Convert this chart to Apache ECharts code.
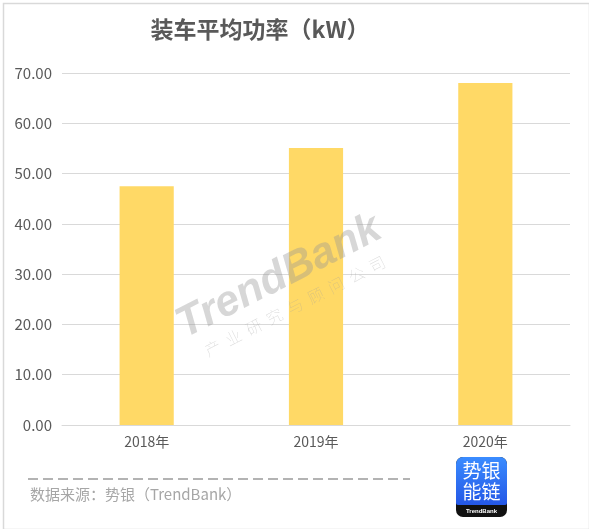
<!DOCTYPE html>
<html>
<head>
<meta charset="utf-8">
<script src="https://cdn.jsdelivr.net/npm/echarts@6/dist/echarts.min.js"></script>
<style>
  html, body { margin: 0; padding: 0; background: #fff; }
  #chart { width: 589px; height: 529px; }
</style>
</head>
<body>
<div id="chart"></div>
<script>
// data
const categories = ['2018年', '2019年', '2020年']
const powerValues = [47.5, 55.1, 68.0]
const yTicks = { min: 0, max: 70, interval: 10 }

const chart = echarts.init(document.getElementById('chart'))
const deg = Math.PI / 180
const font = '"Noto Sans CJK SC", "Noto Sans", sans-serif'

const option = {
  backgroundColor: '#fff',
  textStyle: { fontFamily: font },
  title: {
    text: '装车平均功率（kW）',
    left: 255,
    top: 13,
    textAlign: 'center',
    textStyle: { fontSize: 23, fontWeight: 'bold', color: '#595959', fontFamily: font }
  },
  grid: { left: 62, right: 19, top: 73, bottom: 104 },
  xAxis: {
    type: 'category',
    data: categories,
    axisLine: { lineStyle: { color: '#d9d9d9' } },
    axisTick: { show: false },
    axisLabel: { color: '#595959', fontSize: 14, margin: 10 }
  },
  yAxis: {
    type: 'value',
    min: yTicks.min,
    max: yTicks.max,
    interval: yTicks.interval,
    axisLine: { show: false },
    axisTick: { show: false },
    splitLine: { lineStyle: { color: '#d9d9d9' } },
    axisLabel: {
      color: '#595959',
      fontSize: 15,
      margin: 10,
      formatter: v => v.toFixed(2)
    }
  },
  series: [{
    type: 'bar',
    data: powerValues,
    barWidth: '32%',
    itemStyle: { color: '#FFD966' },
    z: 1
  }],
  graphic: [
    // outer frame
    {
      type: 'rect', left: 1, top: 1, z: 0,
      shape: { width: 586, height: 526 },
      style: { fill: 'none', stroke: '#d9d9d9', lineWidth: 1.5 }
    },
    // watermark
    {
      type: 'text', x: 279, y: 277, rotation: 27 * deg, z: 10,
      style: {
        text: 'TrendBank', x: 0, y: 0, textAlign: 'center', textVerticalAlign: 'middle',
        fontSize: 43, fontWeight: 'bold', fontStyle: 'italic', fontFamily: 'Arial, "Liberation Sans", sans-serif',
        fill: 'rgba(150,150,150,0.38)'
      }
    },
    {
      type: 'text', x: 295, y: 306, rotation: 27 * deg, z: 10,
      style: {
        text: '产  业  研  究  与  顾  问  公  司', x: 0, y: 0, textAlign: 'center', textVerticalAlign: 'middle',
        fontSize: 16, fontWeight: 'lighter', fontFamily: font,
        fill: 'rgba(160,160,160,0.4)'
      }
    },
    // dashed separator
    {
      type: 'line', z: 5,
      shape: { x1: 28, y1: 479, x2: 410, y2: 479 },
      style: { stroke: '#b3b3b3', lineWidth: 2, lineDash: [10, 5] }
    },
    {
      type: 'text', left: 30, top: 487, z: 5,
      style: { text: '数据来源：势银（TrendBank）', fontSize: 15, fill: '#a6a6a6', fontFamily: font }
    },
    // logo
    {
      type: 'group', x: 456, y: 457, z: 20,
      children: [
        {
          type: 'rect', shape: { x: 0, y: 0, width: 51, height: 60, r: 7 },
          style: { fill: '#111' }
        },
        {
          type: 'rect', shape: { x: 0, y: 0, width: 51, height: 48, r: [7, 7, 2, 2] },
          style: {
            fill: new echarts.graphic.LinearGradient(0, 0, 0, 1, [
              { offset: 0, color: '#3a8cff' },
              { offset: 1, color: '#2457e6' }
            ])
          }
        },
        {
          type: 'text', style: {
            text: '势银\n能链', x: 25.5, y: 24, textAlign: 'center', textVerticalAlign: 'middle',
            fontSize: 19, lineHeight: 21, fill: '#fff', fontFamily: font
          }
        },
        {
          type: 'text', style: {
            text: 'TrendBank', x: 25.5, y: 54, textAlign: 'center', textVerticalAlign: 'middle',
            fontSize: 6, fontWeight: 'bold', fill: '#fff', fontFamily: 'Arial, sans-serif'
          }
        }
      ]
    }
  ]
}

chart.setOption(option)
</script>
</body>
</html>
